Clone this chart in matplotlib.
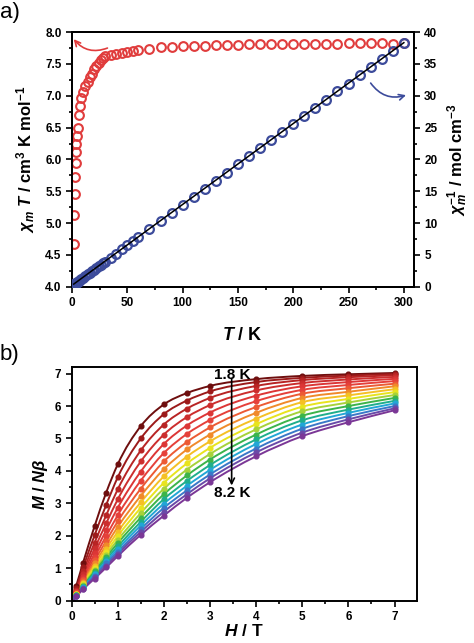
import matplotlib
matplotlib.use('Agg')
import matplotlib.pyplot as plt
from matplotlib.ticker import MultipleLocator
from matplotlib.path import Path
from matplotlib.patches import PathPatch

plt.rcParams['font.family'] = ['Liberation Sans', 'DejaVu Sans']
plt.rcParams['font.weight'] = 'bold'
plt.rcParams['mathtext.fontset'] = 'custom'
plt.rcParams['mathtext.rm'] = 'Liberation Sans:bold'
plt.rcParams['mathtext.it'] = 'Liberation Sans:italic:bold'
plt.rcParams['mathtext.bf'] = 'Liberation Sans:bold'

# panel a data: chiT and 1/chi vs T
temps = [2.0, 2.2, 2.5, 2.8, 3.2, 3.6, 4.0, 4.5, 5.0, 6.0, 7.0, 8.5, 10, 12, 14, 16, 18, 20,
         22, 24, 26, 28, 30, 35, 40, 45, 50, 55, 60, 70, 80, 90, 100, 110, 120, 130, 140,
         150, 160, 170, 180, 190, 200, 210, 220, 230, 240, 250, 260, 270, 280, 290, 300]
chiT = [4.67, 5.12, 5.45, 5.72, 5.95, 6.12, 6.25, 6.37, 6.49, 6.70, 6.84, 6.96, 7.06, 7.16,
        7.22, 7.29, 7.35, 7.42, 7.47, 7.52, 7.56, 7.60, 7.62, 7.64, 7.66, 7.68, 7.69, 7.70,
        7.72, 7.74, 7.76, 7.77, 7.78, 7.79, 7.79, 7.80, 7.80, 7.80, 7.81, 7.81, 7.81, 7.81,
        7.82, 7.82, 7.82, 7.82, 7.82, 7.83, 7.83, 7.83, 7.83, 7.82, 7.83]
chi_inv = [0.43, 0.43, 0.46, 0.49, 0.54, 0.59, 0.64, 0.71, 0.77, 0.90, 1.02, 1.22, 1.42, 1.68,
           1.94, 2.19, 2.45, 2.70, 2.95, 3.19, 3.44, 3.68, 3.94, 4.58, 5.22, 5.86, 6.50, 7.14,
           7.77, 9.04, 10.31, 11.58, 12.85, 14.12, 15.40, 16.67, 17.95, 19.23, 20.49, 21.77,
           23.05, 24.33, 25.58, 26.85, 28.13, 29.41, 30.69, 31.93, 33.21, 34.48, 35.76, 37.08,
           38.31]
fit_T = [1.5, 300]
fit_inv = [0.42, 38.35]

# panel b data: M vs H at 1.8 ... 8.2 K
fields = [0, 0.1, 0.25, 0.5, 0.75, 1, 1.5, 2, 2.5, 3, 4, 5, 6, 7]
M_H0 = [0.0] * 17
M_H01 = [0.45, 0.39, 0.34, 0.30, 0.27, 0.25, 0.23, 0.21, 0.20, 0.19, 0.18, 0.17, 0.16, 0.15, 0.14, 0.14, 0.13]
M_H025 = [1.17, 1.02, 0.90, 0.81, 0.74, 0.68, 0.62, 0.58, 0.54, 0.51, 0.48, 0.45, 0.43, 0.41, 0.39, 0.37, 0.35]
M_H05 = [2.30, 2.02, 1.79, 1.61, 1.46, 1.34, 1.24, 1.15, 1.08, 1.01, 0.95, 0.90, 0.85, 0.81, 0.77, 0.72, 0.68]
M_H075 = [3.33, 2.95, 2.63, 2.38, 2.17, 1.99, 1.84, 1.71, 1.60, 1.50, 1.42, 1.34, 1.27, 1.21, 1.15, 1.08, 1.02]
M_H1 = [4.20, 3.80, 3.43, 3.12, 2.86, 2.63, 2.44, 2.27, 2.12, 1.99, 1.87, 1.77, 1.67, 1.59, 1.51, 1.44, 1.37]
M_H15 = [5.38, 5.00, 4.63, 4.29, 3.98, 3.70, 3.45, 3.23, 3.03, 2.86, 2.70, 2.56, 2.43, 2.32, 2.21, 2.12, 2.03]
M_H2 = [6.05, 5.75, 5.43, 5.12, 4.83, 4.55, 4.29, 4.05, 3.83, 3.63, 3.45, 3.28, 3.13, 2.99, 2.86, 2.74, 2.62]
M_H25 = [6.40, 6.17, 5.92, 5.66, 5.40, 5.14, 4.89, 4.66, 4.44, 4.23, 4.04, 3.86, 3.69, 3.54, 3.40, 3.28, 3.17]
M_H3 = [6.62, 6.45, 6.25, 6.03, 5.80, 5.57, 5.34, 5.12, 4.91, 4.71, 4.52, 4.35, 4.18, 4.03, 3.89, 3.77, 3.65]
M_H4 = [6.83, 6.74, 6.62, 6.48, 6.32, 6.15, 5.97, 5.79, 5.61, 5.44, 5.28, 5.12, 4.97, 4.83, 4.69, 4.57, 4.45]
M_H5 = [6.93, 6.87, 6.80, 6.71, 6.61, 6.50, 6.38, 6.25, 6.12, 5.98, 5.84, 5.70, 5.56, 5.43, 5.30, 5.18, 5.07]
M_H6 = [6.98, 6.94, 6.89, 6.82, 6.74, 6.65, 6.55, 6.44, 6.33, 6.22, 6.11, 6.00, 5.89, 5.79, 5.69, 5.59, 5.50]
M_H7 = [7.02, 6.99, 6.95, 6.90, 6.84, 6.77, 6.69, 6.61, 6.52, 6.43, 6.34, 6.25, 6.16, 6.08, 6.00, 5.93, 5.87]
M_cols = [M_H0, M_H01, M_H025, M_H05, M_H075, M_H1, M_H15, M_H2, M_H25, M_H3, M_H4, M_H5, M_H6, M_H7]

curve_colors = ['#6e0e0e', '#9c1a1a', '#b82424', '#cc2e2e', '#dc3636', '#e5403a', '#ec5a34',
                '#f08a2a', '#f5c025', '#e8e41e', '#a6d23a', '#3cb44a', '#1fae8c', '#22a6d6',
                '#3a78c8', '#6a4aa8', '#7b3796']

red = '#e03c3c'
blue = '#3c4b9b'

fig = plt.figure(figsize=(4.74, 6.43), dpi=100)


def style(ax):
    for s in ax.spines.values():
        s.set_linewidth(1.4)
    ax.tick_params(which='both', direction='out', width=1.2, labelsize=8.5, top=False)
    ax.tick_params(which='major', length=4)
    ax.tick_params(which='minor', length=2.5)
    for lab in ax.get_xticklabels() + ax.get_yticklabels():
        lab.set_fontweight('bold')


def smooth_path(x, y):
    # cubic Hermite segments through the points, drawn as a bezier path
    n = len(x)
    d = [(y[i + 1] - y[i]) / (x[i + 1] - x[i]) for i in range(n - 1)]
    m = [d[0]]
    for i in range(1, n - 1):
        h0, h1 = x[i] - x[i - 1], x[i + 1] - x[i]
        m.append((d[i - 1] * h1 + d[i] * h0) / (h0 + h1))
    m.append(d[-1])
    verts = [(x[0], y[0])]
    codes = [Path.MOVETO]
    for i in range(n - 1):
        h = x[i + 1] - x[i]
        verts += [(x[i] + h / 3, y[i] + m[i] * h / 3),
                  (x[i + 1] - h / 3, y[i + 1] - m[i + 1] * h / 3),
                  (x[i + 1], y[i + 1])]
        codes += [Path.CURVE4] * 3
    return Path(verts, codes)


# ---- a) ----
ax = fig.add_axes([0.152, 0.554, 0.721, 0.396])
ax.plot(temps, chiT, 'o', mfc='none', mec=red, mew=1.5, ms=6.3, zorder=3)
ax.set_xlim(0, 309)
ax.set_ylim(4.0, 8.0)
ax.xaxis.set_major_locator(MultipleLocator(50))
ax.xaxis.set_minor_locator(MultipleLocator(25))
ax.yaxis.set_major_locator(MultipleLocator(0.5))
ax.yaxis.set_minor_locator(MultipleLocator(0.25))
ax.yaxis.set_major_formatter(plt.FormatStrFormatter('%.1f'))
ax.tick_params(right=False)
ax.set_xlabel(r'$T$ / K', fontsize=13, fontweight='bold', labelpad=13)
ax.set_ylabel(r'$\chi_m$ $T$ / cm$^3$ K mol$^{-1}$', fontsize=12, fontweight='bold', labelpad=6)
ax.annotate('', xy=(1.5, 7.89), xytext=(32, 7.75),
            arrowprops=dict(arrowstyle='->', color=red, lw=1.2,
                            connectionstyle='arc3,rad=-0.35', shrinkA=0, shrinkB=0))
style(ax)

ax2 = ax.twinx()
ax2.plot(temps, chi_inv, 'o', mfc='none', mec=blue, mew=1.6, ms=6.3, zorder=3)
ax2.plot(fit_T, fit_inv, '-', color='black', lw=1.1, zorder=4)
ax2.set_ylim(0, 40)
ax2.yaxis.set_major_locator(MultipleLocator(5))
ax2.yaxis.set_minor_locator(MultipleLocator(2.5))
ax2.set_ylabel(r'$\chi_m^{-1}$ / mol cm$^{-3}$', fontsize=12, fontweight='bold',
               rotation=90, labelpad=6)
ax2.annotate('', xy=(302, 30.1), xytext=(270, 32.0),
             arrowprops=dict(arrowstyle='->', color=blue, lw=1.2,
                             connectionstyle='arc3,rad=0.35', shrinkA=0, shrinkB=0))
style(ax2)

fig.text(0.0, 0.997, 'a)', fontsize=16, fontweight='normal', va='top', ha='left')

# ---- b) ----
bx = fig.add_axes([0.151, 0.066, 0.728, 0.363])
for i, c in enumerate(curve_colors):
    m = [col[i] for col in M_cols]
    bx.add_patch(PathPatch(smooth_path(fields, m), facecolor='none', edgecolor=c, lw=1.4))
    bx.plot(fields, m, 'o', color=c, ms=3.4)
bx.set_xlim(0, 7.48)
bx.set_ylim(0, 7.2)
bx.xaxis.set_major_locator(MultipleLocator(1))
bx.xaxis.set_minor_locator(MultipleLocator(0.5))
bx.yaxis.set_major_locator(MultipleLocator(1))
bx.yaxis.set_minor_locator(MultipleLocator(0.5))
bx.tick_params(right=False)
bx.set_xlabel(r'$H$ / T', fontsize=12.5, fontweight='bold', labelpad=0)
bx.set_ylabel(r'$M$ / $N\beta$', fontsize=12, fontweight='bold', labelpad=3)
bx.annotate('', xy=(3.47, 3.55), xytext=(3.47, 6.85),
            arrowprops=dict(arrowstyle='->', color='black', lw=1.2, shrinkA=0, shrinkB=0))
bx.text(3.49, 6.95, '1.8 K', fontsize=11, fontweight='bold', ha='center', va='center')
bx.text(3.49, 3.32, '8.2 K', fontsize=11, fontweight='bold', ha='center', va='center')
style(bx)

fig.text(0.0, 0.465, 'b)', fontsize=16, fontweight='normal', va='top', ha='left')

fig.savefig('out.png', dpi=100)
